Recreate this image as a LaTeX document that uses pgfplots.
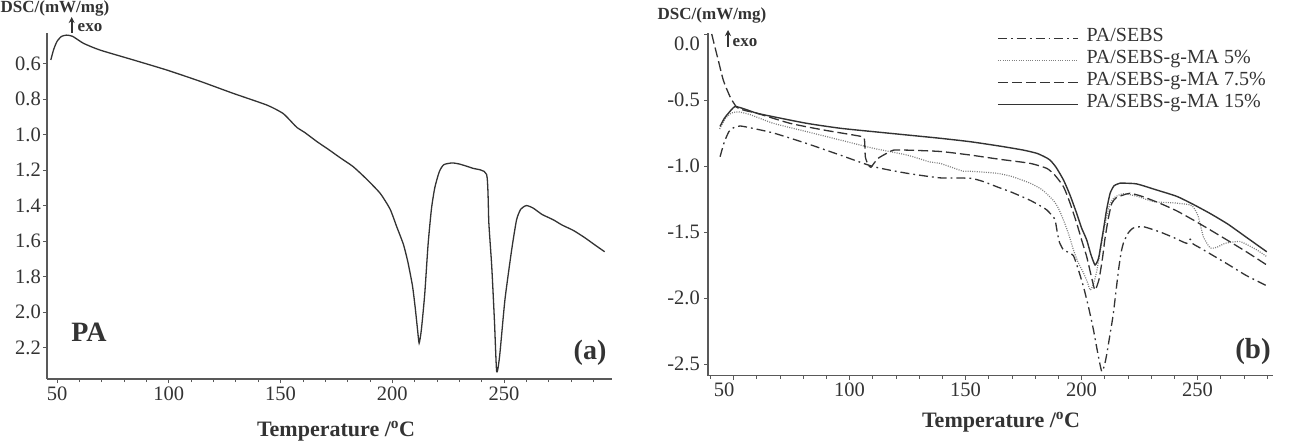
\documentclass[border=0pt]{standalone}
\usepackage{fontspec}
\setmainfont{Liberation Serif}
\usepackage{pgfplots}
\usepackage{pgfplotstable}
\pgfplotsset{compat=1.18}
\usetikzlibrary{arrows.meta}

\definecolor{ink}{gray}{0.2}
\definecolor{axisgray}{gray}{0.35}

% DSC curve of neat PA (temperature in C, heat flow in mW/mg)
\pgfplotstableread{
T v
47.2 0.58
48.5 0.52
50.0 0.475
52.0 0.447
54.3 0.44
57.0 0.447
61.8 0.486
69.2 0.524
84.2 0.58
99.2 0.637
114.0 0.70
128.8 0.768
143.9 0.834
151.0 0.88
155.0 0.93
157.3 0.96
161.0 0.99
166.3 1.04
171.0 1.08
176.6 1.13
182.4 1.18
188.0 1.245
194.5 1.33
199.0 1.42
202.0 1.52
205.0 1.62
207.0 1.72
209.0 1.85
210.2 1.97
211.3 2.10
212.0 2.175
213.0 2.10
214.5 1.90
216.0 1.62
217.5 1.42
219.0 1.30
221.0 1.21
223.0 1.17
226.7 1.16
230.0 1.166
236.0 1.19
242.2 1.225
243.2 1.50
244.5 1.745
245.7 2.05
246.7 2.336
248.0 2.25
250.4 1.93
253.4 1.65
255.6 1.48
257.5 1.42
260.0 1.40
263.0 1.414
267.0 1.45
272.0 1.48
276.0 1.51
281.0 1.54
286.0 1.58
291.0 1.625
295.0 1.66
}\dataPA

% PA/SEBS
\pgfplotstableread{
T v
44.2 -0.93
46.0 -0.82
48.0 -0.74
50.0 -0.71
52.8 -0.697
57.0 -0.71
67.2 -0.75
81.6 -0.83
95.9 -0.917
110.3 -1.005
124.7 -1.055
139.0 -1.09
152.0 -1.093
158.0 -1.12
163.4 -1.157
170.0 -1.20
177.8 -1.26
182.0 -1.30
185.0 -1.333
187.5 -1.38
188.6 -1.41
189.5 -1.50
190.5 -1.58
192.2 -1.636
194.5 -1.655
196.5 -1.68
198.5 -1.78
200.8 -1.914
203.0 -2.07
205.1 -2.24
207.0 -2.42
208.7 -2.558
210.0 -2.50
210.9 -2.42
212.5 -2.25
213.7 -2.116
215.9 -1.79
217.0 -1.66
218.0 -1.586
220.0 -1.51
222.3 -1.47
226.6 -1.46
233.8 -1.50
240.0 -1.545
245.3 -1.586
246.8 -1.555
248.0 -1.59
251.0 -1.62
262.6 -1.74
271.0 -1.83
280.5 -1.914
}\dataSEBS

% PA/SEBS-g-MA 5%
\pgfplotstableread{
T v
44.0 -0.72
46.5 -0.64
49.0 -0.60
52.0 -0.59
57.0 -0.61
67.2 -0.677
81.6 -0.74
95.9 -0.803
110.3 -0.866
124.7 -0.917
134.7 -0.97
139.0 -0.98
149.0 -1.04
152.0 -1.04
163.4 -1.055
170.0 -1.08
177.8 -1.13
183.0 -1.18
187.8 -1.26
190.0 -1.32
192.2 -1.41
194.5 -1.52
196.5 -1.636
198.5 -1.73
200.8 -1.81
202.5 -1.88
203.7 -1.94
205.0 -1.90
206.5 -1.80
208.0 -1.65
210.0 -1.45
212.0 -1.30
214.0 -1.24
218.0 -1.21
224.0 -1.23
231.0 -1.27
240.0 -1.28
246.8 -1.295
248.5 -1.32
250.3 -1.384
252.5 -1.536
255.4 -1.62
258.3 -1.616
261.9 -1.586
268.3 -1.573
275.5 -1.636
279.8 -1.687
}\dataMAfive

% PA/SEBS-g-MA 7.5%
\pgfplotstableread{
T v
40.6 0.0
42.0 -0.10
43.4 -0.197
45.6 -0.35
48.5 -0.475
51.4 -0.555
55.0 -0.58
60.0 -0.60
74.4 -0.677
88.7 -0.727
103.1 -0.77
106.3 -0.79
106.8 -0.93
108.0 -0.99
109.2 -1.01
110.5 -0.98
112.5 -0.94
116.0 -0.904
118.9 -0.88
125.0 -0.88
139.0 -0.89
152.0 -0.917
165.0 -0.95
177.8 -0.98
185.0 -1.018
188.5 -1.07
192.2 -1.157
195.0 -1.28
197.9 -1.434
200.0 -1.56
202.2 -1.687
204.5 -1.86
205.8 -1.94
207.5 -1.86
209.0 -1.70
210.0 -1.56
211.5 -1.40
213.0 -1.283
215.0 -1.24
218.0 -1.22
220.9 -1.207
226.0 -1.23
233.8 -1.283
241.0 -1.34
248.2 -1.41
255.0 -1.48
262.6 -1.56
271.0 -1.65
279.8 -1.75
}\dataMAseven

% PA/SEBS-g-MA 15%
\pgfplotstableread{
T v
44.2 -0.70
46.0 -0.64
47.8 -0.60
50.6 -0.55
55.0 -0.57
60.0 -0.60
67.2 -0.627
81.6 -0.677
95.9 -0.714
110.3 -0.74
124.7 -0.765
139.0 -0.79
152.0 -0.816
165.0 -0.85
175.0 -0.88
180.7 -0.904
184.0 -0.93
186.4 -0.955
189.0 -1.01
192.2 -1.106
195.0 -1.22
197.9 -1.36
200.0 -1.47
202.2 -1.56
204.0 -1.67
205.8 -1.75
207.3 -1.70
208.5 -1.58
209.4 -1.485
210.8 -1.33
212.3 -1.207
214.0 -1.15
216.6 -1.13
218.0 -1.13
223.8 -1.136
232.0 -1.18
241.0 -1.23
248.0 -1.29
255.4 -1.36
263.0 -1.44
271.0 -1.54
279.8 -1.65
}\dataMAfifteen

\pgfplotsset{
  dscaxis/.style={
    scale only axis,
    axis x line*=bottom, axis y line*=left,
    axis line style={axisgray, line width=1.1pt},
    tick style={axisgray, line width=0.8pt},
    tick align=outside,
    major tick length=4pt, minor tick length=3pt,
    tick label style={text=ink, font=\fontsize{20.5}{23}\selectfont},
    yticklabel style={inner sep=2pt},
    clip=false,
  },
  curve/.style={ink, line width=1.3pt, smooth, tension=0.35},
}

\begin{document}
\begin{tikzpicture}
\useasboundingbox (0pt,0pt) rectangle (1289pt,444pt);

% ---- (a) neat PA ----
\begin{axis}[dscaxis,
  at={(47pt,65pt)}, anchor=south west,
  width=565pt, height=346pt,
  xmin=45.5, xmax=298.3, ymin=0.428, ymax=2.377, y dir=reverse,
  xtick={50,100,150,200,250}, xticklabels={50,100,150,200,250},
  minor xtick={50,60,...,290},
  ytick={0.6,0.8,1.0,1.2,1.4,1.6,1.8,2.0,2.2},
  yticklabels={0.6,0.8,1.0,1.2,1.4,1.6,1.8,2.0,2.2},
]
\addplot[curve] table[x=T,y=v] {\dataPA};
\end{axis}

% ---- (b) blends ----
\begin{axis}[dscaxis,
  at={(708pt,68.3pt)}, anchor=south west,
  width=565pt, height=342.7pt,
  xmin=39, xmax=282.5, ymin=-2.589, ymax=0.0076,
  xtick={100,150,200,250}, xticklabels={100,150,200,250},
  extra x ticks={50}, extra x tick labels={50},
  extra x tick style={xticklabel style={xshift=-9.5pt}},
  minor xtick={40,50,...,280},
  ytick={-2.5,-2,-1.5,-1,-0.5},
  yticklabels={-2.5,-2.0,-1.5,-1.0,-0.5},
  yticklabel style={inner sep=4pt},
  extra y ticks={0}, extra y tick labels={0.0},
  extra y tick style={yticklabel style={yshift=-10pt}},
  legend style={at={(axis description cs:0.5115,1.017)}, anchor=north west,
    draw=none, fill=none, inner sep=0pt, row sep=0pt,
    font=\fontsize{20}{22}\selectfont, text=ink,
    nodes={inner sep=0pt, text height=14pt, text depth=8pt},
    /tikz/column 1/.style={column sep=8pt}},
  legend cell align=left,
  legend image code/.code={\draw[#1] (0pt,0pt) -- (80pt,0pt);},
]
\addplot[curve, line width=1.3pt, dash pattern=on 9pt off 4pt on 1.8pt off 4pt] table[x=T,y=v] {\dataSEBS};
\addlegendentry{PA/SEBS}
\addplot[curve, black!50, line width=1.2pt, dash pattern=on 1pt off 1.3pt] table[x=T,y=v] {\dataMAfive};
\addlegendentry{PA/SEBS-g-MA 5\%}
\addplot[curve, line width=1.3pt, dash pattern=on 10pt off 4pt] table[x=T,y=v] {\dataMAseven};
\addlegendentry{PA/SEBS-g-MA 7.5\%}
\addplot[curve, line width=1.4pt] table[x=T,y=v] {\dataMAfifteen};
\addlegendentry{PA/SEBS-g-MA 15\%}
\end{axis}

% ---- annotations ----
\begin{scope}[x=1pt, y=1pt, every node/.style={text=ink}]
\node[font=\bfseries\fontsize{17}{20}\selectfont] at (55,436) {DSC/(mW/mg)};
\draw[ink, line width=1.6pt, -{Stealth[length=6pt,width=6pt]}] (71.7,411) -- (71.7,427);
\node[font=\bfseries\fontsize{17}{20}\selectfont] at (90,416) {exo};
\node[font=\bfseries\fontsize{17}{20}\selectfont] at (712,429) {DSC/(mW/mg)};
\draw[ink, line width=1.6pt, -{Stealth[length=6pt,width=6pt]}] (728,397) -- (728,414);
\node[font=\bfseries\fontsize{17}{20}\selectfont] at (745,401.3) {exo};
\node[font=\bfseries\fontsize{28}{32}\selectfont] at (89,112) {PA};
\node[font=\bfseries\fontsize{28}{32}\selectfont] at (590,91) {(a)};
\node[font=\bfseries\fontsize{29}{32}\selectfont] at (1253,92) {(b)};
\node[font=\bfseries\fontsize{22}{26}\selectfont] at (336,13) {Temperature /\textsuperscript{o}C};
\node[font=\bfseries\fontsize{22}{26}\selectfont] at (1001,22) {Temperature /\textsuperscript{o}C};
\end{scope}
\end{tikzpicture}
\end{document}
